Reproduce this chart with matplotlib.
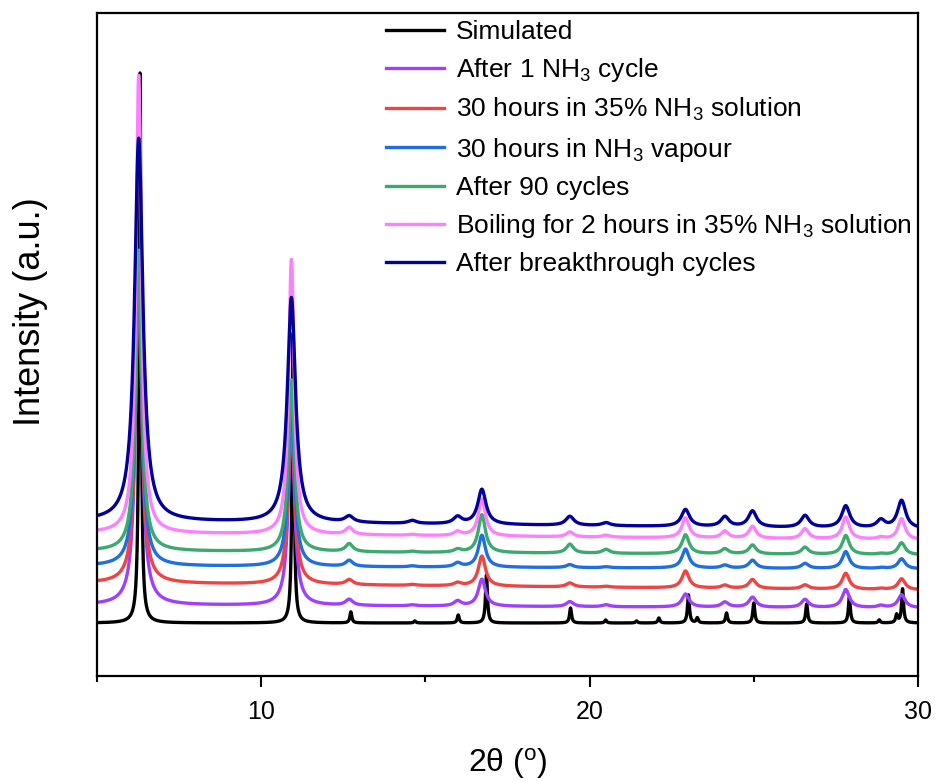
import numpy as np
import matplotlib
matplotlib.use("Agg")
from matplotlib import pyplot as plt
from matplotlib.ticker import MultipleLocator

plt.rcParams['font.family'] = ['Liberation Sans', 'DejaVu Sans']
plt.rcParams['mathtext.default'] = 'regular'

# series labels and colours (legend order)
labels = ["Simulated",
          "After 1 NH$_3$ cycle",
          "30 hours in 35% NH$_3$ solution",
          "30 hours in NH$_3$ vapour",
          "After 90 cycles",
          "Boiling for 2 hours in 35% NH$_3$ solution",
          "After breakthrough cycles"]
colors = ["#000000", "#a040ff", "#f04444", "#1f6fe0", "#3caa6e", "#ff80ff", "#00009c"]

# simulated pattern: peak positions (2theta) and heights (a.u.)
sim_pos = [6.31, 10.97, 12.73, 14.68, 16.0, 16.86, 19.42, 20.49, 21.43, 22.11,
           23.01, 23.28, 24.17, 25.0, 26.61, 27.91, 28.82, 29.35, 29.53]
sim_height = [550, 290, 11, 2, 8, 48, 15, 3, 2, 5,
              28, 5, 10, 20, 19, 26, 3, 8, 34]
sim_width = 0.07

# measured patterns: common peak positions, heights per sample
exp_pos = [6.27, 10.92, 12.68, 14.6, 15.98, 16.72, 19.4, 20.5, 22.92, 24.12,
           24.96, 26.56, 27.8, 28.87, 29.5]
h_1cycle = [345, 185, 6, 1, 5, 27, 5, 2, 13, 5, 10, 8, 18, 2, 13]
h_solution = [313, 173, 5, 1, 3, 30, 4, 1, 17, 3, 9, 4, 16, 1, 11]
h_vapour = [306, 166, 6, 1, 4, 32, 3, 1, 19, 3, 8, 5, 17, 1, 10]
h_90cycles = [301, 172, 8, 1, 3, 38, 9, 4, 19, 5, 9, 7, 19, 1, 12]
h_boiling = [458, 275, 7, 1, 4, 37, 5, 2, 20, 7, 12, 10, 22, 2, 21]
h_breakthrough = [383, 225, 6, 3, 7, 35, 9, 3, 17, 10, 16, 12, 22, 8, 28]
main_width = [0.22, 0.22, 0.22, 0.22, 0.2, 0.3]   # two strong low-angle peaks
small_width = [0.26, 0.26, 0.26, 0.26, 0.26, 0.3]  # all other reflections

# stacking offsets (background at 5 and 30 degrees)
bg_start = [53, 71, 93, 110, 125, 143, 155]
bg_end = [53, 68, 86, 107, 121, 136, 147]

tt = np.arange(5, 30.001, 0.01)


def pattern(pos, height, widths, b0, b1):
    y = b0 + (b1 - b0) * (tt - tt[0]) / (tt[-1] - tt[0])
    for p, h, w in zip(pos, height, widths):
        y = y + h / (1 + (2 * (tt - p) / w) ** 2)
    return y


curves = [pattern(sim_pos, sim_height, [sim_width] * len(sim_pos), bg_start[0], bg_end[0])]
for i, h in enumerate([h_1cycle, h_solution, h_vapour, h_90cycles, h_boiling, h_breakthrough]):
    w = [main_width[i]] * 2 + [small_width[i]] * (len(exp_pos) - 2)
    curves.append(pattern(exp_pos, h, w, bg_start[i + 1], bg_end[i + 1]))

fig = plt.figure(figsize=(9.36, 7.82), dpi=100)
ax = fig.add_axes([97 / 936, 1 - 676 / 782, 821 / 936, 663 / 782])

for y, c, lab in zip(curves, colors, labels):
    ax.plot(tt, y, color=c, lw=2.4, label=lab)

ax.set_xlim(5, 30)
ax.set_ylim(0, 663)
ax.set_yticks([])
ax.xaxis.set_major_locator(MultipleLocator(10))
ax.xaxis.set_minor_locator(MultipleLocator(5))
ax.tick_params(axis='x', which='major', direction='out', length=8, width=1.5,
               labelsize=18, pad=9)
ax.tick_params(axis='x', which='minor', direction='out', length=4, width=1.5)
for s in ax.spines.values():
    s.set_linewidth(1.6)

ax.set_xlabel("2θ ($^{o}$)", fontsize=23, labelpad=16)
ax.set_ylabel("Intensity (a.u.)", fontsize=26)
ax.yaxis.set_label_coords(-0.06, 0.55)

ax.legend(loc='upper left', bbox_to_anchor=(386 / 936, 1 - 20 / 782),
          bbox_transform=fig.transFigure, frameon=False, fontsize=19,
          handlelength=2.2, handletextpad=0.45, labelspacing=0.46,
          borderpad=0, borderaxespad=0)

fig.savefig("out.png", dpi=100)
